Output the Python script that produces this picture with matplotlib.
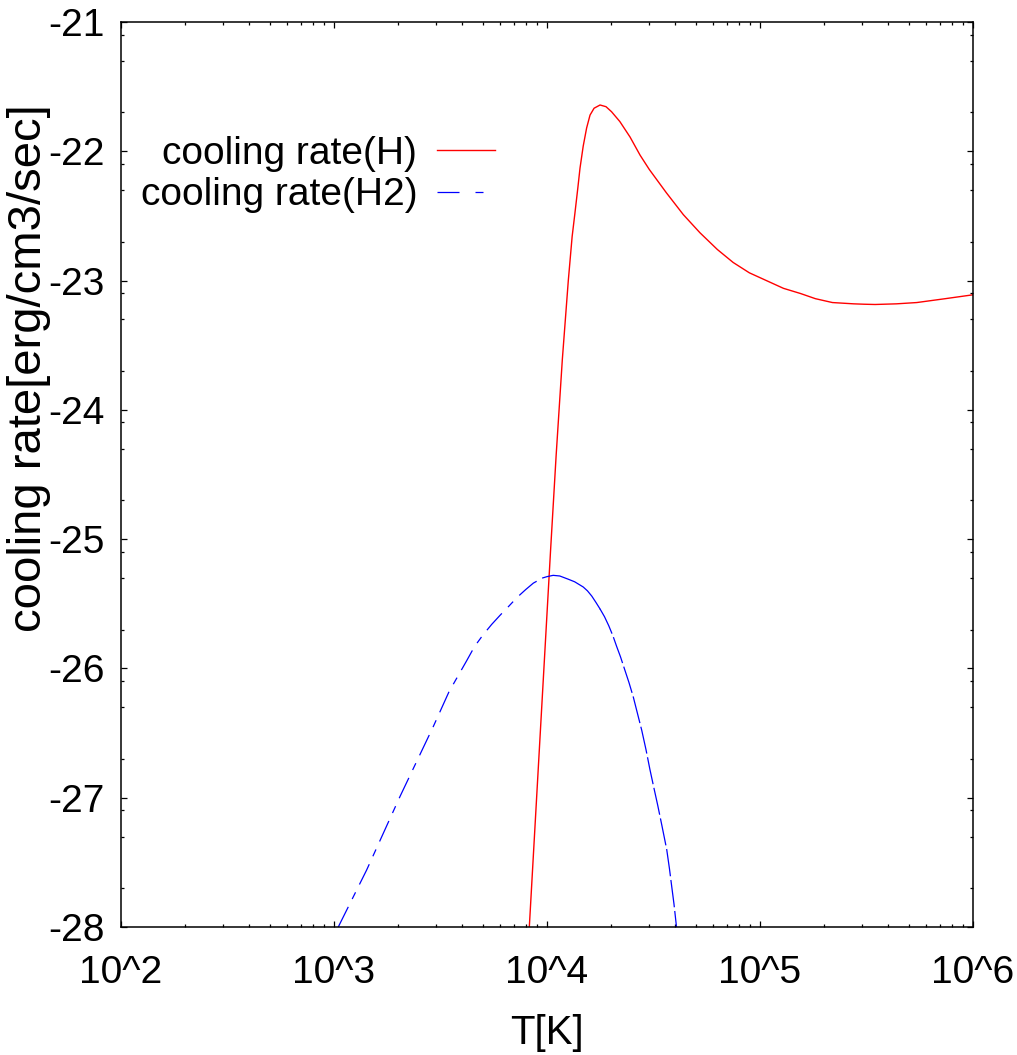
import numpy as np
import matplotlib
matplotlib.use("Agg")
import matplotlib.pyplot as plt
from matplotlib.lines import Line2D
from matplotlib.ticker import FixedLocator, NullFormatter

plt.rcParams['font.family'] = ['Liberation Sans', 'DejaVu Sans']

# log10(T) e log10(taxa de resfriamento)
logT_h = [3.917, 3.967, 4.017, 4.043, 4.072, 4.100, 4.118, 4.131, 4.145, 4.155,
          4.170, 4.186, 4.202, 4.221, 4.249, 4.277, 4.303, 4.342, 4.390, 4.437,
          4.480, 4.520, 4.560, 4.640, 4.718, 4.800, 4.874, 4.950, 5.030, 5.110,
          5.190, 5.260, 5.300, 5.340, 5.390, 5.440, 5.490, 5.540, 5.640, 5.736,
          5.870, 6.000]
rate_h = [-28.00, -26.54, -25.08, -24.35, -23.61, -23.00, -22.66, -22.48, -22.28, -22.13,
          -21.96, -21.82, -21.72, -21.667, -21.642, -21.655, -21.694, -21.77, -21.89, -22.03,
          -22.14, -22.23, -22.32, -22.49, -22.63, -22.76, -22.86, -22.94, -23.00, -23.06,
          -23.10, -23.14, -23.155, -23.17, -23.175, -23.18, -23.183, -23.185, -23.18, -23.17,
          -23.14, -23.11]

logT_h2 = [3.020, 3.153, 3.310, 3.466, 3.540, 3.623, 3.660, 3.700, 3.740, 3.779,
           3.820, 3.860, 3.900, 3.936, 3.980, 4.000, 4.029, 4.060, 4.100, 4.130,
           4.170, 4.190, 4.210, 4.230, 4.249, 4.270, 4.290, 4.310, 4.327, 4.345,
           4.365, 4.385, 4.405, 4.425, 4.445, 4.465, 4.483, 4.500, 4.520, 4.540,
           4.562, 4.575, 4.585, 4.596, 4.608]
rate_h2 = [-28.00, -27.56, -26.99, -26.45, -26.18, -25.94, -25.83, -25.74, -25.66, -25.59,
           -25.52, -25.45, -25.39, -25.34, -25.30, -25.29, -25.28, -25.285, -25.31, -25.33,
           -25.37, -25.40, -25.44, -25.49, -25.54, -25.60, -25.67, -25.75, -25.83, -25.91,
           -26.01, -26.11, -26.22, -26.35, -26.48, -26.63, -26.78, -26.91, -27.06, -27.22,
           -27.40, -27.55, -27.68, -27.82, -28.00]

xticks_exp = [2, 3, 4, 5, 6]
yticks = [-28, -27, -26, -25, -24, -23, -22, -21]

fig = plt.figure(figsize=(10.17, 10.55), dpi=100)
ax = fig.add_axes([121 / 1017, 1 - 927 / 1055, 852 / 1017, 905 / 1055])

T_h = 10.0 ** np.array(logT_h)
T_h2 = 10.0 ** np.array(logT_h2)
rate_h2 = np.array(rate_h2)

ax.plot(T_h, rate_h, color='red', lw=1.0)

# o tracejado do gnuplot muda ao longo da curva: esquerda, topo, direita
i1, i2 = 14, 24
ax.plot(T_h2[:i1 + 1], rate_h2[:i1 + 1], color='blue', lw=0.9, linestyle=(0, (18, 7, 6, 7)))
ax.plot(T_h2[i1:i2 + 1], rate_h2[i1:i2 + 1], color='blue', lw=0.9)
ax.plot(T_h2[i2:], rate_h2[i2:], color='blue', lw=0.9, linestyle=(0, (22, 3)))

ax.set_xscale('log')
ax.set_xlim(1e2, 1e6)
ax.set_ylim(-28, -21)

ax.set_xticks([10.0 ** e for e in xticks_exp])
ax.set_xticklabels([f"10^{e}" for e in xticks_exp])
ax.xaxis.set_minor_locator(FixedLocator([m * 10.0 ** e for e in xticks_exp[:-1] for m in range(2, 10)]))
ax.xaxis.set_minor_formatter(NullFormatter())

ax.set_yticks(yticks)
ax.set_yticklabels([str(v) for v in yticks])
ymin = [k + np.log10(m) for k in range(-29, -21) for m in (2, 5, 8)]
ax.yaxis.set_minor_locator(FixedLocator([v for v in ymin if -28 < v < -21]))

ax.tick_params(which='both', direction='in', top=True, right=True, width=0.9)
ax.tick_params(which='major', length=4.5)
ax.tick_params(which='minor', length=2.5)
ax.tick_params(axis='x', which='major', labelsize=28, pad=20)
ax.tick_params(axis='y', which='major', labelsize=28, pad=12)
for s in ax.spines.values():
    s.set_linewidth(1.1)

ax.set_xlabel('T[K]', fontsize=29, labelpad=17)
ax.set_ylabel('cooling rate[erg/cm3/sec]', fontsize=34)
ax.yaxis.set_label_coords(-0.082, 0.618)

h_line = Line2D([], [], color='red', lw=1.0)
h2_line = Line2D([], [], color='blue', lw=0.9, linestyle=(0, (17.6, 12.8, 6.4, 30)))
ax.legend([h_line, h2_line], ['cooling rate(H)', 'cooling rate(H2)'],
          loc='center right', bbox_to_anchor=(0.439, 0.8315), frameon=False,
          markerfirst=False, fontsize=28, handlelength=1.5, handletextpad=0.5,
          labelspacing=0.15, borderpad=0, borderaxespad=0)

fig.savefig('out.png', dpi=100)
